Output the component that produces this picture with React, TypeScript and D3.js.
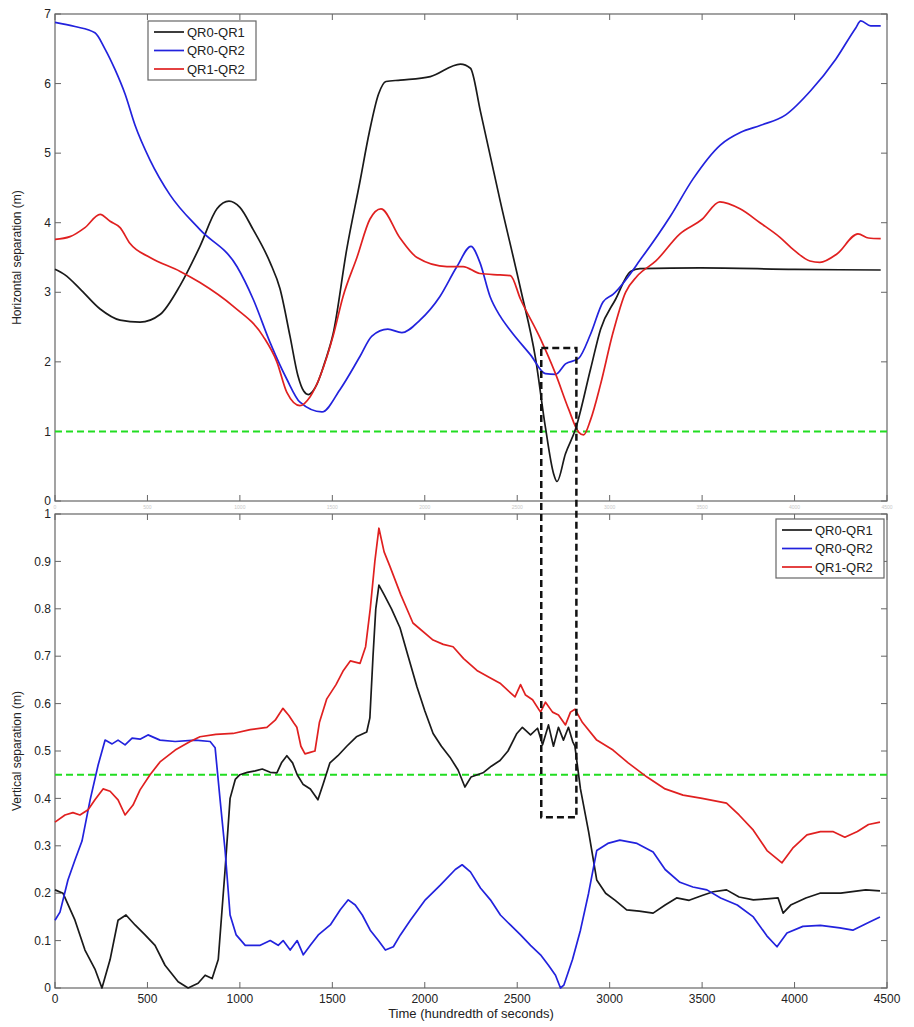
import React, { useEffect, useRef } from 'react';
import * as d3 from 'd3';

type Pt = [number, number];

// --- Data ---
const seriesNames = ['QR0-QR1', 'QR0-QR2', 'QR1-QR2'];
const seriesColors = ['#1a1a1a', '#2222dd', '#e02020'];
const xTicks = [0, 500, 1000, 1500, 2000, 2500, 3000, 3500, 4000, 4500];
const hTicks = [0, 1, 2, 3, 4, 5, 6, 7];
const vTicks = [0, 0.1, 0.2, 0.3, 0.4, 0.5, 0.6, 0.7, 0.8, 0.9, 1];
const hThreshold = 1;
const vThreshold = 0.45;
const boxRange = { x0: 2630, x1: 2820, hTop: 2.2, vBottom: 0.36 };

const hQR01: Pt[] = [
	[0, 3.33], [54, 3.25], [135, 3.05], [244, 2.76], [352, 2.6], [460, 2.57], [568, 2.68],
	[677, 3.1], [784, 3.66], [876, 4.2], [941, 4.31], [1000, 4.22], [1072, 3.9], [1163, 3.43],
	[1217, 3.05], [1271, 2.37], [1314, 1.8], [1345, 1.58], [1370, 1.53], [1417, 1.68],
	[1460, 2.0], [1504, 2.4], [1578, 3.62], [1650, 4.6], [1700, 5.3], [1750, 5.85],
	[1790, 6.03], [1868, 6.05], [2030, 6.1], [2193, 6.28], [2247, 6.22], [2301, 5.6],
	[2409, 4.3], [2518, 3.05], [2599, 2.05], [2653, 1.05], [2696, 0.4], [2715, 0.28],
	[2761, 0.68], [2815, 1.03], [2897, 1.9], [2951, 2.47], [3032, 2.9], [3113, 3.3],
	[3164, 3.34], [3492, 3.35], [4000, 3.33], [4466, 3.32],
];

const hQR02: Pt[] = [
	[0, 6.88], [108, 6.82], [216, 6.73], [270, 6.5], [325, 6.2], [379, 5.85], [433, 5.4],
	[514, 4.9], [622, 4.4], [784, 3.9], [984, 3.37], [1072, 2.9], [1163, 2.28], [1254, 1.75],
	[1325, 1.42], [1444, 1.28], [1541, 1.6], [1650, 2.08], [1714, 2.37], [1800, 2.47],
	[1876, 2.42], [1974, 2.6], [2082, 2.94], [2174, 3.37], [2250, 3.66], [2298, 3.43],
	[2353, 2.94], [2407, 2.66], [2463, 2.45], [2572, 2.1], [2653, 1.83], [2707, 1.82],
	[2761, 1.97], [2832, 2.05], [2897, 2.4], [2964, 2.86], [3018, 2.97], [3180, 3.52],
	[3330, 4.1], [3451, 4.63], [3600, 5.12], [3709, 5.3], [3817, 5.4], [3952, 5.55],
	[4088, 5.9], [4223, 6.35], [4331, 6.8], [4358, 6.9], [4412, 6.83], [4466, 6.83],
];

const hQR12: Pt[] = [
	[0, 3.76], [81, 3.8], [162, 3.93], [244, 4.12], [298, 4.02], [352, 3.93], [406, 3.7],
	[514, 3.5], [677, 3.3], [784, 3.14], [963, 2.8], [1125, 2.37], [1200, 2.0], [1254, 1.56],
	[1325, 1.37], [1380, 1.5], [1504, 2.37], [1558, 2.94], [1633, 3.5], [1703, 4.05],
	[1763, 4.2], [1866, 3.78], [1958, 3.5], [2120, 3.37], [2207, 3.37], [2298, 3.27],
	[2407, 3.25], [2463, 3.24], [2518, 2.9], [2626, 2.33], [2707, 1.83], [2778, 1.32],
	[2832, 0.99], [2859, 0.95], [2897, 1.17], [2951, 1.68], [3016, 2.4], [3086, 3.0],
	[3148, 3.23], [3250, 3.45], [3380, 3.84], [3500, 4.05], [3596, 4.3], [3705, 4.2],
	[3813, 4.0], [3921, 3.79], [4000, 3.6], [4083, 3.45], [4137, 3.43], [4229, 3.55],
	[4343, 3.84], [4400, 3.78], [4466, 3.77],
];

const vQR01: Pt[] = [
	[0, 0.207], [43, 0.2], [108, 0.143], [162, 0.08], [216, 0.04], [254, 0.0], [298, 0.06],
	[341, 0.143], [384, 0.154], [433, 0.133], [487, 0.112], [541, 0.09], [595, 0.048],
	[666, 0.013], [720, 0.0], [774, 0.01], [812, 0.027], [850, 0.02], [883, 0.06],
	[920, 0.25], [947, 0.4], [975, 0.44], [1000, 0.45], [1040, 0.455], [1083, 0.458],
	[1121, 0.462], [1164, 0.455], [1200, 0.454], [1225, 0.475], [1254, 0.49], [1285, 0.475],
	[1310, 0.45], [1341, 0.43], [1381, 0.42], [1422, 0.397], [1450, 0.43], [1487, 0.475],
	[1530, 0.49], [1578, 0.51], [1630, 0.53], [1686, 0.54], [1703, 0.57], [1720, 0.7],
	[1735, 0.8], [1752, 0.85], [1780, 0.83], [1820, 0.8], [1866, 0.76], [1910, 0.7],
	[1958, 0.635], [2000, 0.585], [2045, 0.537], [2090, 0.51], [2136, 0.487], [2180, 0.46],
	[2217, 0.424], [2250, 0.445], [2315, 0.454], [2360, 0.468], [2407, 0.48], [2450, 0.5],
	[2498, 0.537], [2528, 0.55], [2572, 0.534], [2610, 0.548], [2637, 0.513], [2669, 0.555],
	[2696, 0.51], [2723, 0.55], [2750, 0.523], [2777, 0.55], [2800, 0.52], [2812, 0.51],
	[2842, 0.42], [2886, 0.33], [2930, 0.228], [2978, 0.2], [3030, 0.185], [3092, 0.165],
	[3160, 0.162], [3235, 0.158], [3300, 0.175], [3362, 0.19], [3430, 0.185], [3500, 0.195],
	[3560, 0.203], [3632, 0.207], [3700, 0.192], [3777, 0.186], [3850, 0.188], [3911, 0.19],
	[3938, 0.158], [3979, 0.175], [4061, 0.19], [4137, 0.2], [4250, 0.2], [4385, 0.207],
	[4462, 0.205],
];

const vQR02: Pt[] = [
	[0, 0.143], [27, 0.16], [70, 0.228], [108, 0.27], [146, 0.31], [190, 0.397], [233, 0.47],
	[271, 0.523], [309, 0.515], [341, 0.523], [379, 0.513], [417, 0.527], [460, 0.525],
	[503, 0.534], [568, 0.523], [650, 0.52], [758, 0.523], [839, 0.52], [866, 0.507],
	[893, 0.397], [920, 0.29], [947, 0.154], [980, 0.112], [1029, 0.09], [1110, 0.09],
	[1164, 0.1], [1207, 0.09], [1234, 0.1], [1272, 0.08], [1310, 0.1], [1343, 0.07],
	[1381, 0.09], [1424, 0.112], [1489, 0.133], [1543, 0.165], [1586, 0.186], [1624, 0.175],
	[1662, 0.154], [1705, 0.122], [1749, 0.1], [1787, 0.08], [1830, 0.087], [1868, 0.112],
	[1922, 0.143], [2003, 0.186], [2084, 0.217], [2165, 0.25], [2202, 0.26], [2247, 0.245],
	[2301, 0.211], [2355, 0.186], [2409, 0.154], [2463, 0.133], [2518, 0.112], [2572, 0.09],
	[2626, 0.07], [2669, 0.048], [2707, 0.027], [2734, 0.0], [2752, 0.006], [2799, 0.06],
	[2842, 0.122], [2886, 0.2], [2930, 0.29], [2990, 0.305], [3055, 0.312], [3148, 0.305],
	[3235, 0.287], [3300, 0.25], [3380, 0.223], [3450, 0.213], [3526, 0.207], [3600, 0.19],
	[3690, 0.175], [3777, 0.15], [3850, 0.11], [3905, 0.087], [3959, 0.116], [4045, 0.13],
	[4140, 0.132], [4245, 0.127], [4315, 0.122], [4400, 0.138], [4462, 0.15],
];

const vQR12: Pt[] = [
	[0, 0.35], [54, 0.365], [97, 0.37], [135, 0.365], [179, 0.376], [216, 0.397], [260, 0.42],
	[298, 0.415], [341, 0.397], [379, 0.365], [422, 0.386], [460, 0.418], [514, 0.45],
	[568, 0.477], [650, 0.502], [731, 0.52], [784, 0.53], [870, 0.535], [963, 0.537],
	[1056, 0.545], [1146, 0.55], [1191, 0.565], [1233, 0.59], [1265, 0.575], [1290, 0.56],
	[1308, 0.55], [1330, 0.51], [1352, 0.494], [1380, 0.497], [1406, 0.5], [1430, 0.56],
	[1470, 0.61], [1520, 0.64], [1560, 0.67], [1597, 0.69], [1650, 0.685], [1680, 0.72],
	[1705, 0.8], [1730, 0.9], [1752, 0.97], [1780, 0.92], [1811, 0.89], [1870, 0.83],
	[1936, 0.77], [2045, 0.734], [2100, 0.725], [2153, 0.72], [2210, 0.695], [2282, 0.67],
	[2350, 0.655], [2407, 0.643], [2488, 0.614], [2518, 0.64], [2545, 0.618], [2583, 0.608],
	[2626, 0.582], [2653, 0.603], [2691, 0.582], [2723, 0.576], [2761, 0.555], [2788, 0.582],
	[2812, 0.588], [2853, 0.56], [2930, 0.523], [3018, 0.502], [3100, 0.475], [3202, 0.445],
	[3300, 0.42], [3397, 0.407], [3500, 0.4], [3632, 0.39], [3700, 0.365], [3777, 0.333],
	[3851, 0.29], [3932, 0.264], [3990, 0.295], [4067, 0.323], [4140, 0.33], [4207, 0.33],
	[4272, 0.318], [4340, 0.33], [4400, 0.345], [4462, 0.35],
];

const W = 914;
const H = 1027;
const left = 55;
const right = 887;
const font = 'Liberation Sans, Arial, sans-serif';

const App: React.FC = () => {
	const ref = useRef<SVGSVGElement>(null);

	useEffect(() => {
		if (!ref.current) return;
		const svg = d3.select(ref.current);
		svg.selectAll('*').remove();

		const x = d3.scaleLinear().domain([0, 4500]).range([left, right]);
		const yTop = d3.scaleLinear().domain([0, 7]).range([501, 14]);
		const yBot = d3.scaleLinear().domain([0, 1]).range([988, 514]);

		const drawPanel = (
			y: d3.ScaleLinear<number, number>,
			yTicks: number[],
			series: Pt[][],
			curve: d3.CurveFactory,
			threshold: number,
			showX: boolean,
			yFmt: (d: number) => string,
		) => {
			const [y0, y1] = y.range();
			const g = svg.append('g');

			// frame
			g.append('rect')
				.attr('x', left)
				.attr('y', y1)
				.attr('width', right - left)
				.attr('height', y0 - y1)
				.attr('fill', '#fff')
				.attr('stroke', '#666')
				.attr('stroke-width', 1.2);

			// inward ticks on all sides
			const tl = 6;
			xTicks.forEach((t) => {
				g.append('line').attr('x1', x(t)).attr('x2', x(t)).attr('y1', y0).attr('y2', y0 - tl).attr('stroke', '#666');
				g.append('line').attr('x1', x(t)).attr('x2', x(t)).attr('y1', y1).attr('y2', y1 + tl).attr('stroke', '#666');
			});
			yTicks.forEach((t) => {
				g.append('line').attr('x1', left).attr('x2', left + tl).attr('y1', y(t)).attr('y2', y(t)).attr('stroke', '#666');
				g.append('line').attr('x1', right).attr('x2', right - tl).attr('y1', y(t)).attr('y2', y(t)).attr('stroke', '#666');
				g.append('text')
					.attr('x', left - 4)
					.attr('y', y(t))
					.attr('dy', '0.35em')
					.attr('text-anchor', 'end')
					.attr('font-family', font)
					.attr('font-size', 12)
					.attr('fill', '#222')
					.text(yFmt(t));
			});

			if (showX) {
				xTicks.forEach((t) => {
					g.append('text')
						.attr('x', x(t))
						.attr('y', y0 + 15)
						.attr('text-anchor', 'middle')
						.attr('font-family', font)
						.attr('font-size', 12)
						.attr('fill', '#222')
						.text(String(t));
				});
			}

			// threshold
			g.append('line')
				.attr('x1', left)
				.attr('x2', right)
				.attr('y1', y(threshold))
				.attr('y2', y(threshold))
				.attr('stroke', '#22dd22')
				.attr('stroke-width', 2)
				.attr('stroke-dasharray', '7,4');

			const line = d3
				.line<Pt>()
				.x((d) => x(d[0]))
				.y((d) => y(d[1]))
				.curve(curve);

			series.forEach((s, i) => {
				g.append('path')
					.attr('d', line(s))
					.attr('fill', 'none')
					.attr('stroke', seriesColors[i])
					.attr('stroke-width', 1.7)
					.attr('stroke-linejoin', 'round');
			});
		};

		drawPanel(yTop, hTicks, [hQR01, hQR02, hQR12], d3.curveMonotoneX, hThreshold, false, (d) => String(d));

		// faint hidden tick labels of the upper axes, between panels
		xTicks.forEach((t) => {
			svg.append('text')
				.attr('x', x(t))
				.attr('y', 509)
				.attr('text-anchor', 'middle')
				.attr('font-family', font)
				.attr('font-size', 5)
				.attr('fill', '#c8c8c8')
				.text(String(t));
		});

		drawPanel(yBot, vTicks, [vQR01, vQR02, vQR12], d3.curveLinear, vThreshold, true, (d) =>
			d === 0 || d === 1 ? String(d) : d3.format('.1f')(d),
		);

		// legends
		const legend = (lx: number, ly: number) => {
			const g = svg.append('g').attr('transform', `translate(${lx},${ly})`);
			g.append('rect')
				.attr('width', 108)
				.attr('height', 59)
				.attr('fill', '#fff')
				.attr('stroke', '#666')
				.attr('stroke-width', 1.2);
			seriesNames.forEach((n, i) => {
				const yy = 11 + i * 18.5;
				g.append('line').attr('x1', 6).attr('x2', 36).attr('y1', yy).attr('y2', yy)
					.attr('stroke', seriesColors[i]).attr('stroke-width', 1.7);
				g.append('text')
					.attr('x', 39)
					.attr('y', yy)
					.attr('dy', '0.35em')
					.attr('font-family', font)
					.attr('font-size', 13)
					.attr('fill', '#222')
					.text(n);
			});
		};
		legend(148, 21);
		legend(776, 519);

		// dashed highlight box spanning both panels
		svg.append('rect')
			.attr('x', x(boxRange.x0))
			.attr('y', yTop(boxRange.hTop))
			.attr('width', x(boxRange.x1) - x(boxRange.x0))
			.attr('height', yBot(boxRange.vBottom) - yTop(boxRange.hTop))
			.attr('fill', 'none')
			.attr('stroke', '#111')
			.attr('stroke-width', 2.5)
			.attr('stroke-dasharray', '7,4');

		// axis labels
		svg.append('text')
			.attr('transform', `translate(21,${(yTop(0) + yTop(7)) / 2}) rotate(-90)`)
			.attr('text-anchor', 'middle')
			.attr('font-family', font)
			.attr('font-size', 12)
			.attr('fill', '#222')
			.text('Horizontal separation (m)');
		svg.append('text')
			.attr('transform', `translate(21,${(yBot(0) + yBot(1)) / 2}) rotate(-90)`)
			.attr('text-anchor', 'middle')
			.attr('font-family', font)
			.attr('font-size', 12)
			.attr('fill', '#222')
			.text('Vertical separation (m)');
		svg.append('text')
			.attr('x', (left + right) / 2)
			.attr('y', 1018)
			.attr('text-anchor', 'middle')
			.attr('font-family', font)
			.attr('font-size', 13)
			.attr('fill', '#222')
			.text('Time (hundredth of seconds)');
	}, []);

	return (
		<div style={{ position: 'absolute', left: 0, top: 0 }}>
			<svg ref={ref} width={W} height={H} style={{ display: 'block', background: '#fff' }} />
		</div>
	);
};

export default App;
